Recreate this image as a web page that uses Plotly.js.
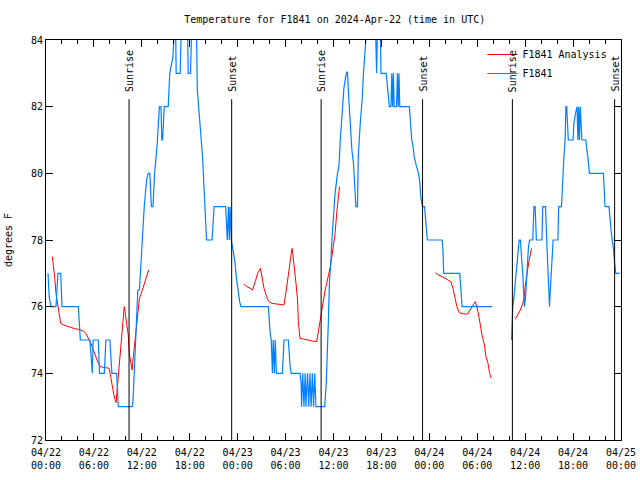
<!DOCTYPE html>
<html>
<head>
<meta charset="utf-8">
<script src="https://cdn.plot.ly/plotly-3.0.1.min.js"></script>
<style>html,body{margin:0;padding:0;background:#fff;}#chart{width:640px;height:480px;}</style>
</head>
<body>
<div id="chart"></div>
<script>
// Hours since 2024-04-22 00:00 UTC
const obsHours = [0.25,0.4,0.6,1.25,1.5,1.85,2.0,4.05,4.3,5.5,5.65,5.8,5.9,6.55,6.7,7.3,7.5,8.0,8.25,8.85,9.05,10.8,10.9,11.05,11.2,11.35,11.5,11.7,11.86,12.1,12.3,12.6,12.8,13.0,13.2,13.4,13.6,13.9,14.2,14.4,14.5,14.6,14.8,15.3,15.5,15.9,16.1,16.2,16.3,16.8,17.0,17.7,17.8,18.1,18.3,18.8,18.95,19.3,19.6,19.8,20.0,20.1,20.8,21.05,22.5,22.7,22.85,22.95,23.05,23.2,23.45,23.65,23.85,24.05,24.25,24.4,
27.85,28.05,28.2,28.35,28.45,28.6,28.7,28.85,29.6,29.8,30.35,30.55,30.7,31.8,31.95,32.0,32.15,32.3,32.45,32.55,32.75,32.9,33.05,33.2,33.35,33.5,33.65,33.8,34.9,35.1,35.25,35.35,35.5,35.65,35.8,36.0,36.2,36.5,36.7,36.85,37.05,37.3,37.6,37.75,37.9,38.1,38.3,38.5,38.7,38.8,39.0,39.1,39.35,39.6,39.75,39.85,40.05,40.15,41.2,41.4,41.55,41.8,41.95,42.6,42.7,42.9,43.0,43.2,43.3,43.4,43.5,43.6,43.9,44.0,44.1,44.2,44.3,45.5,45.7,45.8,46.0,46.1,46.4,46.65,46.8,46.95,47.15,47.4,47.65,47.75,49.6,49.7,49.8,51.8,51.9,52.0,52.1,55.85,
56.5,
58.3,58.4,58.45,58.6,58.75,58.95,59.25,59.4,59.5,59.6,59.7,59.8,59.9,60.05,60.2,60.4,60.55,60.95,61.1,61.25,61.4,62.1,62.2,62.55,62.7,62.85,63.05,63.15,63.3,63.5,64.1,64.2,64.55,64.7,64.85,65.0,65.1,65.2,65.4,66.0,66.1,66.3,66.5,66.6,66.7,66.8,66.9,67.1,67.6,67.7,67.85,68.05,69.8,69.9,70.0,70.5,70.6,70.75,70.9,71.05,71.2,71.35,71.85];
const obsTemps = [77,76.3,76,76,77,77,76,76,75,75,74.5,74,75,75,74,74,75,75,74,74,73,73,73.2,74,75,76,76.5,76.5,77.25,78.3,79,79.8,80,80,79,79,80,80.8,82,82,81,81,82,82,83,83.5,85,85,83,83,85,85,83,83,85,85,82.5,81.5,80.5,79.5,78.5,78,78,79,79,78,79,78,79,78,77.65,77.35,76.85,76.4,76.15,76,
76,75.25,75,74,75,74,75,74,74,75,75,74.25,74,74,73.7,73,74,73,74,73,74,73,74,73,74,73,74,73,73,73.75,74.6,75.5,76.8,77.25,78,78.7,79.4,80,80.25,81,81.75,82.55,83,83.05,82.3,81.4,80.7,80.3,79.5,79,79,80.5,81.5,82.25,83,83.3,84,85,85,83,85,85,83,83,82.7,82.25,82,82,83,82,83,82,82,83,82,83,82,82,81.3,81,80.75,80.5,80.2,80,79.75,79.25,79,79,78.3,78,78,77.7,77,77,76.7,76.25,76,76,
null,
75,75.75,76,76.3,76.75,77.3,78,78,77.75,77.3,77,76.3,76,76.3,77,77.75,78,78,79,79,78,78,79,79,78,77,76,76.5,77.3,78,78,79,79,80,80.5,81,82,82,81,81,81.5,81.8,82,81,82,81,82,81,81,80.75,80.5,80,80,79.5,79,79,78.6,78.3,78,77.75,77.3,77,77];

const anaHours = [0.8,1.0,1.1,1.25,1.4,1.55,1.7,1.84,2.2,3.0,3.6,4.05,4.3,4.7,4.97,5.3,5.64,5.93,6.2,6.55,6.77,7.4,7.9,8.1,8.3,8.5,8.77,8.98,9.15,9.4,9.6,9.8,9.9,10.1,10.3,10.43,10.6,10.78,10.94,11.15,11.36,11.53,11.7,11.86,12.2,12.53,12.86,
13.5,
24.8,25.15,25.56,25.85,26.2,26.5,26.85,27.05,27.3,27.55,27.85,28.27,28.9,29.45,29.8,30.0,30.27,30.56,30.8,30.9,31.1,31.3,31.5,31.6,31.8,32.65,33.35,33.9,34.1,34.3,34.5,34.7,34.95,35.15,35.35,35.6,35.8,36.0,36.2,36.4,36.6,36.75,
40,
48.75,49.15,49.6,50.0,50.4,50.7,50.96,51.16,51.45,51.75,52.3,52.8,53.05,53.4,53.75,53.9,54.1,54.3,54.6,54.9,55.1,55.35,55.55,55.75,
57,
58.75,59.05,59.4,59.7,59.9,60.0,60.15,60.3,60.5,60.7,60.8];
const anaTemps = [77.5,77.1,76.85,76.4,76.15,75.9,75.7,75.5,75.45,75.38,75.34,75.32,75.3,75.27,75.2,75.05,74.9,74.7,74.5,74.3,74.2,74.17,74.15,73.9,73.6,73.35,73.12,73.7,74.3,75,75.5,76,75.85,75.4,75.15,74.6,74.4,74.1,74.5,75.05,75.45,75.9,76.25,76.35,76.6,76.85,77.1,
null,
76.68,76.6,76.55,76.5,76.75,77,77.15,76.85,76.55,76.35,76.17,76.1,76.08,76.05,76.05,76.35,76.85,77.4,77.75,77.6,77.2,76.7,76.2,75.55,75.05,75.0,74.97,74.95,75.25,75.6,75.95,76.25,76.5,76.7,76.9,77.2,77.5,77.85,78.2,78.8,79.3,79.6,
null,
77.02,76.95,76.9,76.85,76.8,76.75,76.55,76.3,76,75.82,75.78,75.78,75.9,76.02,76.15,76.05,75.85,75.55,75.15,74.85,74.5,74.3,74,73.85,
null,
75.62,75.75,75.9,76.1,76.3,76.6,76.8,77.1,77.4,77.65,77.75];

const sunriseHours = [10.4, 34.45, 58.4];
const sunsetHours = [23.25, 47.15, 71.2];

const BASE = Date.UTC(2024, 3, 22, 0, 0, 0);
function toDate(h) {
  return new Date(BASE + h * 3600000).toISOString().replace('T', ' ').slice(0, 19);
}

const font = {family: '"DejaVu Sans Mono", "Liberation Mono", monospace', size: 10, color: '#000'};

const traces = [
  {x: anaHours.map(toDate), y: anaTemps, type: 'scatter', mode: 'lines', name: 'F1841 Analysis',
   line: {color: '#ff0000', width: 1}, connectgaps: false},
  {x: obsHours.map(toDate), y: obsTemps, type: 'scatter', mode: 'lines', name: 'F1841',
   line: {color: '#0080ff', width: 1.2}, connectgaps: false}
];

const shapes = [];
const annotations = [];
function addSunLine(h, label) {
  shapes.push({type: 'line', xref: 'x', yref: 'paper', x0: toDate(h), x1: toDate(h), y0: 0, y1: 0.852,
               line: {color: '#000', width: 1}});
  annotations.push({x: toDate(h), xref: 'x', yref: 'paper', y: 0.865, yanchor: 'bottom', xanchor: 'center',
                    text: label, textangle: -90, showarrow: false, font: font});
}
sunriseHours.forEach(h => addSunLine(h, 'Sunrise'));
sunsetHours.forEach(h => addSunLine(h, 'Sunset'));

const layout = {
  width: 640, height: 480,
  margin: {l: 46, r: 19, t: 40, b: 40},
  paper_bgcolor: '#fff', plot_bgcolor: '#fff',
  font: font,
  title: {text: 'Temperature for F1841 on 2024-Apr-22 (time in UTC)', font: font, x: 0.523, xanchor: 'center', y: 0.96, yanchor: 'middle'},
  showlegend: true,
  legend: {x: 0.985, xanchor: 'right', y: 1.0, yanchor: 'top', bgcolor: 'rgba(0,0,0,0)', font: font,
           tracegroupgap: 0, itemwidth: 30},
  xaxis: {
    type: 'date',
    range: [toDate(0), toDate(72)],
    dtick: 6 * 3600000,
    tick0: toDate(0),
    tickformat: '%m/%d<br>%H:%M',
    ticks: 'inside', ticklen: 7, tickcolor: '#000', tickwidth: 1,
    ticklabelstandoff: 3,
    minor: {dtick: 2 * 3600000, ticks: 'inside', ticklen: 4, tickcolor: '#000'},
    showline: true, linecolor: '#000', linewidth: 1, mirror: 'ticks',
    showgrid: false, zeroline: false, tickfont: font
  },
  yaxis: {
    range: [72, 84],
    dtick: 2,
    ticks: 'inside', ticklen: 7, tickcolor: '#000', tickwidth: 1,
    showline: true, linecolor: '#000', linewidth: 1, mirror: 'ticks',
    showgrid: false, zeroline: false, tickfont: font,
    title: {text: 'degrees F', font: font, standoff: 16}
  },
  shapes: shapes,
  annotations: annotations
};

Plotly.newPlot('chart', traces, layout, {staticPlot: true, displayModeBar: false});
</script>
</body>
</html>
